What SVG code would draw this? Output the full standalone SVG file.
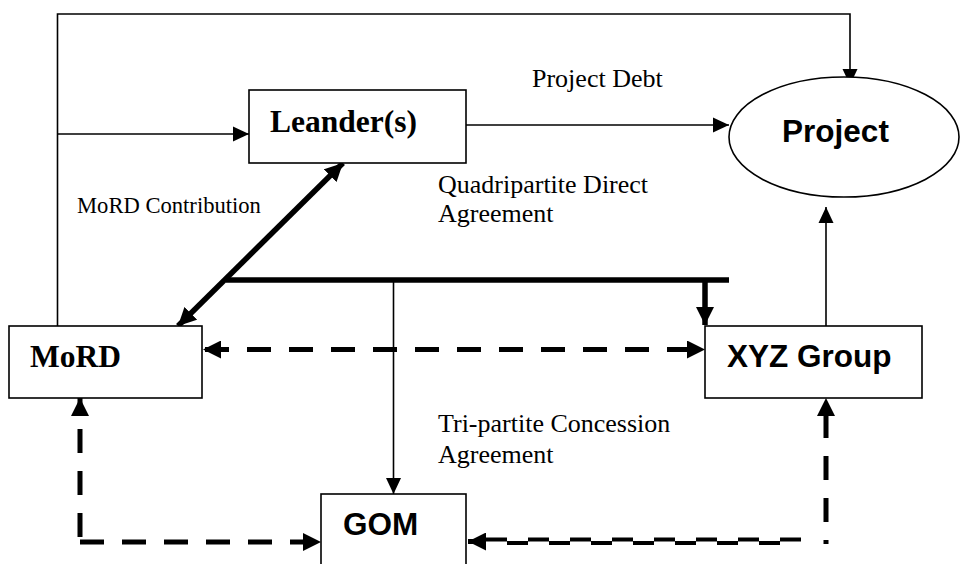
<svg xmlns="http://www.w3.org/2000/svg" width="961" height="564" viewBox="0 0 961 564">
<style>
.box{fill:#fff;stroke:#000;stroke-width:1.6}
.thin{fill:none;stroke:#000;stroke-width:1.6}
.thick{fill:none;stroke:#000;stroke-width:5.5}
.dash{fill:none;stroke:#000;stroke-width:5;stroke-dasharray:24 18}
.serif{font-family:"Liberation Serif","Times New Roman",serif;fill:#000}
.sans{font-family:"Liberation Sans",Arial,sans-serif;fill:#000}
.bold{font-weight:bold;font-size:31.5px}
.lbl{font-size:26px}
</style>
<defs>
<marker id="a" markerUnits="userSpaceOnUse" markerWidth="16" markerHeight="16" refX="16" refY="7.5" orient="auto-start-reverse" viewBox="0 0 16 15">
<path d="M0,0 L16,7.5 L0,15 Z" fill="#000"/>
</marker>
<marker id="b" markerUnits="userSpaceOnUse" markerWidth="20" markerHeight="18" refX="18" refY="9" orient="auto-start-reverse" viewBox="0 0 20 18">
<path d="M0,0 L18,9 L0,18 Z" fill="#000"/>
</marker>
</defs>

<g id="connectors">
<!-- top loop MoRD -> Project -->
<path class="thin" d="M57.5,326 V14 H850 V85" marker-end="url(#a)"/>
<!-- branch to Leander -->
<path class="thin" d="M57.5,134 H249" marker-end="url(#a)"/>
<!-- Leander -> Project -->
<path class="thin" d="M466,125 H729" marker-end="url(#a)"/>
<!-- XYZ -> Project -->
<path class="thin" d="M826,326 V207" marker-end="url(#a)"/>
<!-- MoRD contribution diagonal -->
<path class="thick" d="M343,163 L178,326" marker-start="url(#b)" marker-end="url(#b)"/>
<!-- quadripartite bar -->
<path class="thick" d="M226,280 H729"/>
<path class="thick" d="M705,280 V325" marker-end="url(#b)"/>
<!-- tripartite line to GOM -->
<path class="thin" d="M393.5,280 V494" marker-end="url(#a)"/>
<!-- MoRD <-> XYZ dashed -->
<path class="dash" d="M203,349.5 H705" marker-start="url(#b)" marker-end="url(#b)" style="stroke-dashoffset:-2"/>
<!-- left dashed: to MoRD and to GOM -->
<path class="dash" d="M80,542 V398" marker-end="url(#b)" style="stroke-dashoffset:-5"/>
<path class="dash" d="M80,542 H321" marker-end="url(#b)"/>
<!-- right dashed up to XYZ -->
<path class="dash" d="M826,544 V398" marker-end="url(#b)" style="stroke-dashoffset:-22"/>
<!-- stepped dashed to GOM -->
<path fill="none" stroke="#000" stroke-width="4" stroke-dasharray="21 21" d="M801,539.5 H484"/>
<path fill="none" stroke="#000" stroke-width="4" stroke-dasharray="21 21" stroke-dashoffset="21" d="M801,543 H484"/>
<path fill="none" stroke="#000" stroke-width="5" d="M484,541.5 H468" marker-end="url(#b)"/>
</g>

<g id="leander">
<rect class="box" x="249" y="90" width="217" height="73"/>
<text class="serif bold" x="270" y="132">Leander(s)</text>
</g>

<g id="project">
<ellipse class="box" cx="844" cy="137" rx="115" ry="60"/>
<text class="sans bold" x="835.5" y="142" text-anchor="middle">Project</text>
</g>

<g id="mord">
<rect class="box" x="9" y="326" width="193" height="72"/>
<text class="serif bold" x="30" y="367">MoRD</text>
</g>

<g id="xyz">
<rect class="box" x="705" y="326" width="217" height="72"/>
<text class="sans bold" x="727" y="367">XYZ Group</text>
</g>

<g id="gom">
<rect class="box" x="321" y="494" width="145" height="80"/>
<text class="sans bold" x="343" y="535">GOM</text>
</g>

<g id="labels">
<text class="serif lbl" x="532" y="87">Project Debt</text>
<text class="serif lbl" x="438" y="193">Quadripartite Direct</text>
<text class="serif lbl" x="438" y="222">Agreement</text>
<text class="serif" font-size="22.6" x="77" y="213">MoRD Contribution</text>
<text class="serif lbl" x="438" y="432">Tri-partite Concession</text>
<text class="serif lbl" x="438" y="463">Agreement</text>
</g>
</svg>
